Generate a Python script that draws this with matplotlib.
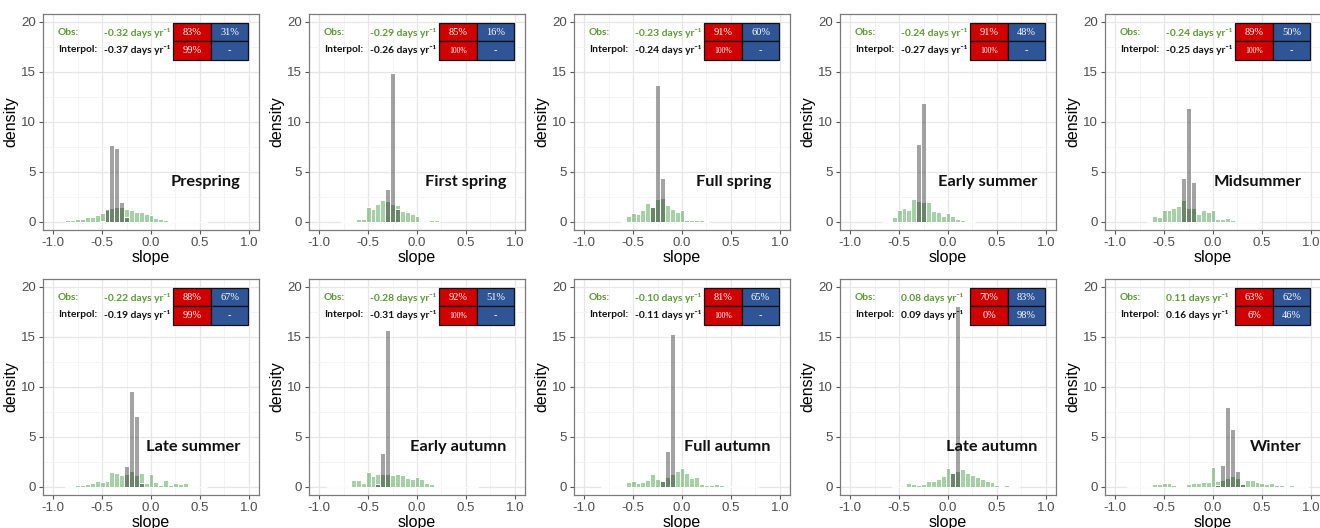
import matplotlib
matplotlib.use("Agg")
import matplotlib.pyplot as plt
from matplotlib.patches import Rectangle

# ---------------- data ----------------
seasons = ["Prespring", "First spring", "Full spring", "Early summer", "Midsummer",
           "Late summer", "Early autumn", "Full autumn", "Late autumn", "Winter"]

obs_slope = ["-0.32", "-0.29", "-0.23", "-0.24", "-0.24",
             "-0.22", "-0.28", "-0.10", "0.08", "0.11"]
interp_slope = ["-0.37", "-0.26", "-0.24", "-0.27", "-0.25",
                "-0.19", "-0.31", "-0.11", "0.09", "0.16"]

# table cells: [obs red, obs blue, interp red, interp blue]
cell_obs_red = ["83%", "85%", "91%", "91%", "89%", "88%", "92%", "81%", "70%", "63%"]
cell_obs_blue = ["31%", "16%", "60%", "48%", "50%", "67%", "51%", "65%", "83%", "62%"]
cell_int_red = ["99%", "100%", "100%", "100%", "100%", "99%", "100%", "100%", "0%", "6%"]
cell_int_blue = ["-", "-", "-", "-", "-", "-", "-", "-", "98%", "46%"]

bin_width = 0.05

# observed (green) histogram: first bin centre and densities
obs_start = [-0.85, -0.75, -0.60, -0.65, -0.65, -0.85, -0.90, -0.80, -0.55, -0.85]
obs_density = [
    [0.2, 0.2, 0.3, 0.3, 0.5, 0.5, 0.7, 0.9, 1.2, 1.4, 1.5, 1.5, 1.3, 1.2, 1.0, 1.0, 0.8, 0.7,
     0.4, 0.3, 0.2, 0.1, 0.05, 0.05, 0.0, 0.05, 0.0, 0.0, 0.05],
    [0.1, 0.1, 0.1, 0.3, 0.3, 1.5, 1.3, 1.8, 2.2, 2.1, 1.8, 1.7, 1.1, 1.0, 0.8, 0.6, 0.1, 0.1,
     0.2, 0.2],
    [0.1, 0.6, 0.9, 0.8, 1.2, 1.9, 1.6, 2.3, 2.4, 1.7, 1.3, 1.0, 1.2, 0.2, 0.15, 0.15, 0.15,
     0.05],
    [0.1, 0.1, 0.5, 1.2, 1.4, 1.2, 2.3, 2.1, 2.0, 2.0, 1.1, 1.0, 0.6, 0.9, 0.6, 0.3, 0.2, 0.1,
     0.1],
    [0.1, 0.6, 0.5, 1.2, 1.2, 1.4, 1.6, 2.2, 1.4, 1.4, 0.8, 1.2, 1.0, 1.2, 0.3, 0.3, 0.4, 0.2,
     0.0, 0.0, 0.0, 0.05, 0.05],
    [0.05, 0.0, 0.2, 0.2, 0.3, 0.4, 0.6, 0.5, 0.6, 1.5, 1.4, 1.2, 1.3, 1.6, 1.2, 1.4, 0.4, 1.3,
     0.5, 0.2, 0.7, 0.2, 0.4, 0.3, 0.4, 0.0, 0.05, 0.0, 0.05],
    [0.1, 0.05, 0.0, 0.0, 0.0, 0.7, 0.7, 0.4, 1.5, 1.1, 1.3, 1.3, 1.3, 1.2, 1.3, 1.2, 0.9, 0.8,
     1.0, 0.8, 0.4, 0.3, 0.0, 0.1, 0.05, 0.05, 0.0, 0.05, 0.0, 0.0, 0.05],
    [0.05, 0.05, 0.0, 0.0, 0.0, 0.5, 0.6, 0.4, 0.5, 0.7, 1.3, 0.8, 0.7, 1.0, 1.3, 1.6, 1.9, 1.4,
     0.9, 1.0, 0.3, 0.2, 0.2, 0.3, 0.2, 0.1, 0.05, 0.0, 0.0, 0.0, 0.1, 0.05],
    [0.05, 0.0, 0.0, 0.4, 0.3, 0.2, 0.3, 0.6, 0.6, 0.8, 1.1, 1.9, 1.4, 1.6, 1.8, 1.4, 1.2, 1.0,
     0.8, 0.6, 0.5, 0.2, 0.0, 0.2, 0.0, 0.1],
    [0.05, 0.0, 0.0, 0.0, 0.1, 0.3, 0.3, 0.4, 0.4, 0.2, 0.1, 0.1, 0.3, 0.4, 0.4, 0.5, 0.5, 2.0,
     0.6, 0.7, 0.9, 1.1, 0.9, 0.4, 0.7, 0.7, 0.5, 0.4, 0.3, 0.4, 0.2, 0.2, 0.1, 0.2, 0.0, 0.1,
     0.1],
]

# interpolated (grey) histogram: first bin centre and densities
int_start = [-0.50, -0.30, -0.30, -0.30, -0.30, -0.25, -0.40, -0.20, 0.05, 0.05]
int_density = [
    [0.1, 1.3, 7.7, 7.4, 2.0, 0.5],
    [3.3, 14.9, 1.3],
    [1.5, 13.7, 4.4],
    [7.8, 11.9],
    [4.4, 11.4, 4.0],
    [2.1, 9.6, 7.1, 0.4],
    [0.3, 3.4, 15.7],
    [0.6, 3.6, 15.3],
    [1.4, 18.1],
    [0.2, 2.2, 8.0, 5.8, 1.6, 0.3],
]

x_ticks = [-1.0, -0.5, 0.0, 0.5, 1.0]
y_ticks = [0, 5, 10, 15, 20]

# ---------------- styling ----------------
W, H = 1320, 528
fig = plt.figure(figsize=(W / 100, H / 100), dpi=100)
fig.patch.set_facecolor("white")

lefts_px = [43, 309, 574, 840, 1105]
tops_px = [14, 279]
aw, ah = 216, 216

GREEN = (34 / 255, 139 / 255, 34 / 255, 0.40)
GREY = (0, 0, 0, 0.36)
OBS_TXT = "#5c9a36"
RED = "#d00000"
BLUE = "#2f5597"

for i, name in enumerate(seasons):
    r, c = divmod(i, 5)
    ax = fig.add_axes([lefts_px[c] / W, 1 - (tops_px[r] + ah) / H, aw / W, ah / H])
    ax.set_xlim(-1.105, 1.105)
    ax.set_ylim(-0.85, 20.8)

    ax.set_axisbelow(True)
    ax.set_xticks(x_ticks)
    ax.set_yticks(y_ticks)
    ax.set_xticks([-0.75, -0.25, 0.25, 0.75], minor=True)
    ax.set_yticks([2.5, 7.5, 12.5, 17.5], minor=True)
    ax.grid(which="major", color="#e6e6e6", linewidth=0.9)
    ax.grid(which="minor", color="#f3f3f3", linewidth=0.6)
    ax.tick_params(which="minor", length=0)
    ax.tick_params(which="major", length=3, width=0.8, color="#555555",
                   labelsize=9.5, labelcolor="#4d4d4d", pad=2)
    ax.set_xticklabels(["-1.0", "-0.5", "0.0", "0.5", "1.0"], family="Liberation Sans")
    ax.set_yticklabels([str(v) for v in y_ticks], family="Liberation Sans")
    for s in ax.spines.values():
        s.set_color("#7a7a7a")
        s.set_linewidth(0.9)

    ax.set_xlabel("slope", fontsize=11.5, family="Liberation Sans", labelpad=1)
    ax.set_ylabel("density", fontsize=11.5, family="Liberation Sans", labelpad=2)

    # histograms
    oc = [obs_start[i] + bin_width * k for k in range(len(obs_density[i]))]
    ax.bar(oc, obs_density[i], width=bin_width, color=GREEN, edgecolor="white",
           linewidth=0.7, zorder=2)
    gc = [int_start[i] + bin_width * k for k in range(len(int_density[i]))]
    ax.bar(gc, int_density[i], width=bin_width, color=GREY, edgecolor="white",
           linewidth=0.7, zorder=3)

    # slope texts
    fam = ["Lato", "DejaVu Sans"]
    fs_t = 7.4
    ax.text(-0.955, 18.9, "Obs:", color=OBS_TXT, fontsize=fs_t, weight="bold",
            family=fam, va="center", zorder=5)
    ax.text(-0.48, 18.9, f"{obs_slope[i]} days yr\u207b\u00b9", color=OBS_TXT,
            fontsize=fs_t, weight="bold", family=fam, va="center", zorder=5)
    ax.text(-0.955, 17.2, "Interpol:", color="#111111", fontsize=fs_t, weight="bold",
            family=fam, va="center", zorder=5)
    ax.text(-0.48, 17.2, f"{interp_slope[i]} days yr\u207b\u00b9", color="#111111",
            fontsize=fs_t, weight="bold", family=fam, va="center", zorder=5)

    # table of percentages
    x0, x1, xm = 0.23, 0.995, 0.612
    y0, y1, ym = 16.2, 19.9, 18.05
    cells = [(x0, ym, xm, y1, RED, cell_obs_red[i]),
             (xm, ym, x1, y1, BLUE, cell_obs_blue[i]),
             (x0, y0, xm, ym, RED, cell_int_red[i]),
             (xm, y0, x1, ym, BLUE, cell_int_blue[i])]
    for (a, b, cc, d, col, txt) in cells:
        ax.add_patch(Rectangle((a, b), cc - a, d - b, facecolor=col, edgecolor="#111111",
                               linewidth=0.9, zorder=6))
        fs = 5.5 if txt == "100%" else 7.5
        ax.text((a + cc) / 2, (b + d) / 2, txt, color="white", fontsize=fs,
                family="Liberation Serif", ha="center", va="center", zorder=7)

    # season label
    ax.text(0.91, 4.0, name, fontsize=11.8, weight="bold", family=["Lato", "DejaVu Sans"],
            color="#111111", ha="right", va="center", zorder=8)

fig.savefig("out.png", dpi=100, facecolor="white")
